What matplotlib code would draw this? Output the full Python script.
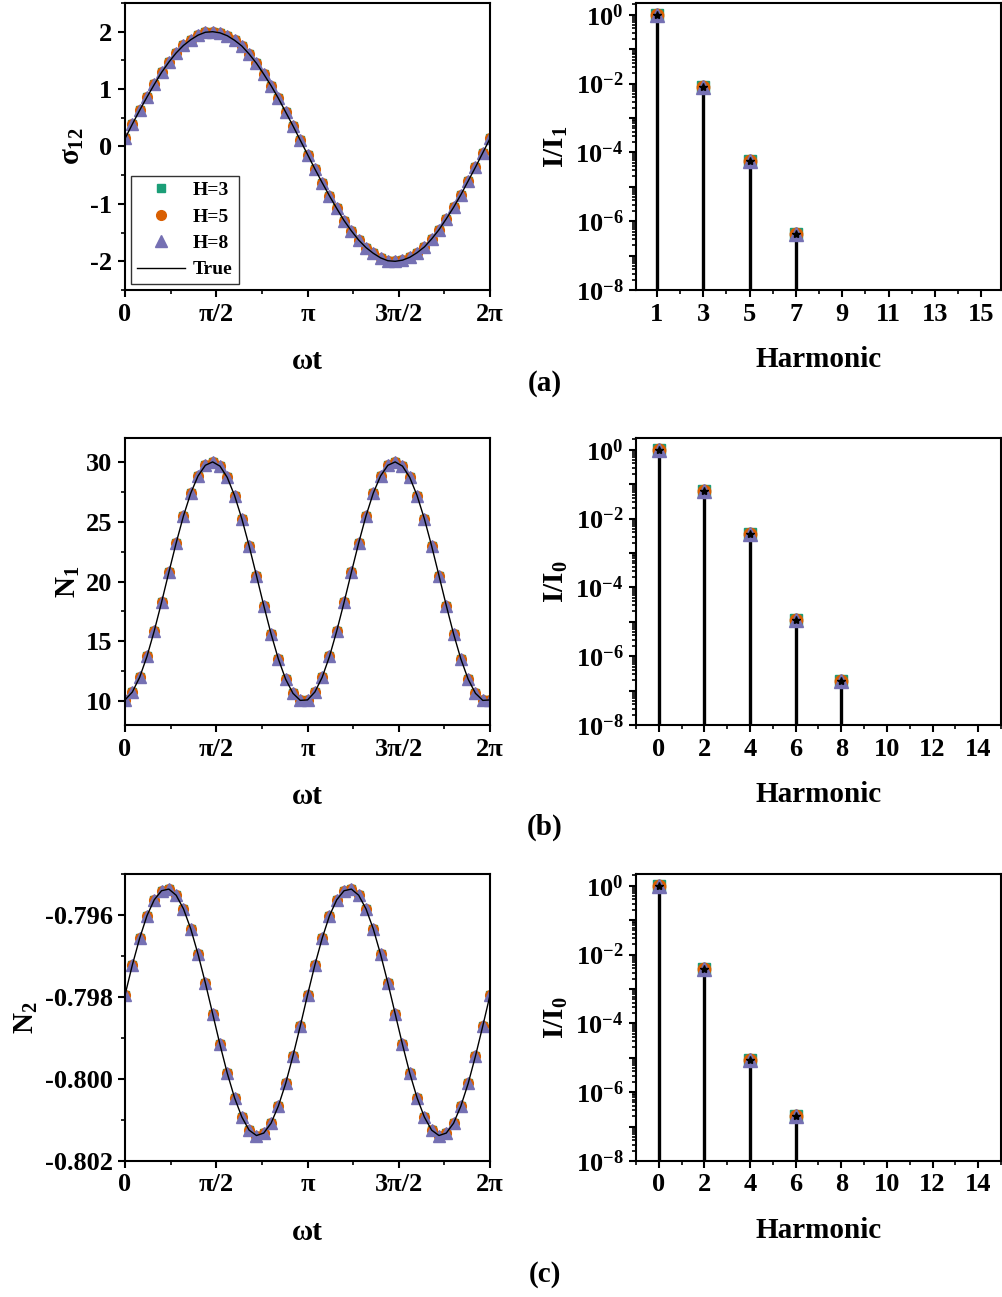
import numpy as np
import matplotlib
matplotlib.use('Agg')
import matplotlib.pyplot as plt
from matplotlib.ticker import MultipleLocator, FixedLocator, LogLocator, FuncFormatter, NullFormatter

plt.rcParams['font.family'] = 'Liberation Serif'
plt.rcParams['font.weight'] = 'bold'
plt.rcParams['axes.labelweight'] = 'bold'
plt.rcParams['mathtext.fontset'] = 'custom'
plt.rcParams['mathtext.rm'] = 'Liberation Serif:bold'
plt.rcParams['mathtext.it'] = 'Liberation Serif:bold'
plt.rcParams['mathtext.bf'] = 'Liberation Serif:bold'
plt.rcParams['axes.unicode_minus'] = False

# sample grid over one period (51 points, 0..2pi)
wt = np.linspace(0, 2 * np.pi, 51)

# values
sigma12 = [0.14, 0.39, 0.63, 0.86, 1.08, 1.29, 1.47, 1.63, 1.76, 1.86, 1.94, 1.99, 2.00,
           1.98, 1.93, 1.85, 1.75, 1.61, 1.45, 1.26, 1.06, 0.84, 0.60, 0.36, 0.11,
           -0.14, -0.39, -0.63, -0.86, -1.08, -1.29, -1.47, -1.63, -1.76, -1.86, -1.94, -1.99, -2.00,
           -1.98, -1.93, -1.85, -1.75, -1.61, -1.45, -1.26, -1.06, -0.84, -0.60, -0.36, -0.11,
           0.14]

n1 = [10.10, 10.76, 11.99, 13.73, 15.87, 18.26, 20.77, 23.22, 25.48, 27.39, 28.83, 29.72, 30.00,
      29.65, 28.70, 27.19, 25.24, 22.96, 20.49, 17.99, 15.62, 13.52, 11.83, 10.65, 10.06,
      10.10, 10.76, 11.99, 13.73, 15.87, 18.26, 20.77, 23.22, 25.48, 27.39, 28.83, 29.72, 30.00,
      29.65, 28.70, 27.19, 25.24, 22.96, 20.49, 17.99, 15.62, 13.52, 11.83, 10.65, 10.06,
      10.10]

n2 = [-0.79795, -0.79722, -0.79657, -0.79602, -0.79563, -0.79541, -0.79537, -0.79552, -0.79585,
      -0.79634, -0.79696, -0.79766, -0.79841, -0.79916, -0.79986, -0.80046, -0.80093, -0.80125,
      -0.80138, -0.80132, -0.80108, -0.80066, -0.80011, -0.79944, -0.79871,
      -0.79795, -0.79722, -0.79657, -0.79602, -0.79563, -0.79541, -0.79537, -0.79552, -0.79585,
      -0.79634, -0.79696, -0.79766, -0.79841, -0.79916, -0.79986, -0.80046, -0.80093, -0.80125,
      -0.80138, -0.80132, -0.80108, -0.80066, -0.80011, -0.79944, -0.79871,
      -0.79795]

# harmonic spectra (normalised intensity)
harm_a = [1, 3, 5, 7]
amp_a = [1.0, 7.9e-3, 5.8e-5, 4.2e-7]
harm_b = [0, 2, 4, 6, 8]
amp_b = [1.0, 6.4e-2, 3.6e-3, 1.1e-5, 1.9e-7]
harm_c = [0, 2, 4, 6]
amp_c = [1.0, 3.8e-3, 8.7e-6, 2.0e-7]

pi_ticks = [0, np.pi / 2, np.pi, 1.5 * np.pi, 2 * np.pi]
pi_labels = ['0', 'π/2', 'π', '3π/2', '2π']

c_h3 = '#1b9e77'
c_h5 = '#d95f02'
c_h8 = '#7570b3'


def style_axes(ax):
    for s in ax.spines.values():
        s.set_linewidth(1.5)
    ax.tick_params(which='major', direction='out', length=5, width=1.5, labelsize=19, pad=4)
    ax.tick_params(which='minor', direction='out', length=3, width=1.2)


def time_panel(ax, y, ylabel):
    l3, = ax.plot(wt, y, 's', color=c_h3, ms=6, label='H=3')
    l5, = ax.plot(wt, y, 'o', color=c_h5, ms=7, label='H=5')
    l8, = ax.plot(wt, y, '^', color=c_h8, ms=8, label='H=8')
    lt, = ax.plot(wt, y, '-', color='k', lw=1.0, label='True', zorder=5)
    ax.set_xlim(0, 2 * np.pi)
    ax.set_xticks(pi_ticks)
    ax.set_xticklabels(pi_labels)
    ax.xaxis.set_minor_locator(MultipleLocator(np.pi / 4))
    ax.set_xlabel('ωt', fontsize=21, labelpad=16)
    ax.set_ylabel(ylabel, fontsize=21, labelpad=3)
    style_axes(ax)
    return [l3, l5, l8, lt]


def log_fmt(v, pos):
    e = int(round(np.log10(v)))
    if e % 2 == 0:
        return r'$10^{%d}$' % e
    return ''


def spec_panel(ax, h, a, ylabel, xlim, xmajor):
    ax.set_yscale('log')
    ax.vlines(h, 1e-8, a, color='k', lw=2.4, zorder=2)
    ax.plot(h, a, 's', color=c_h3, ms=8, zorder=3)
    ax.plot(h, a, 'o', color=c_h5, ms=9, zorder=3)
    ax.plot(h, a, '^', color=c_h8, ms=10, zorder=4)
    ax.plot(h, a, '*', color='k', ms=6, zorder=5)
    ax.set_xlim(*xlim)
    ax.set_ylim(1e-8, 2.2)
    ax.set_xticks(xmajor)
    ax.xaxis.set_minor_locator(MultipleLocator(1))
    ax.yaxis.set_major_locator(FixedLocator([10.0 ** e for e in range(-8, 1)]))
    ax.yaxis.set_major_formatter(FuncFormatter(log_fmt))
    ax.yaxis.set_minor_locator(LogLocator(base=10, subs=np.arange(2, 10), numticks=100))
    ax.yaxis.set_minor_formatter(NullFormatter())
    ax.set_xlabel('Harmonic', fontsize=21, labelpad=15)
    ax.set_ylabel(ylabel, fontsize=21, labelpad=4)
    style_axes(ax)


fig = plt.figure(figsize=(10.02, 12.97), dpi=100)

lw_, ww = 0.1248, 0.3643
rw_ = 0.6347
hh = 0.2213
rows = [0.7764, 0.4410, 0.1049]

# (a)
ax1 = fig.add_axes([lw_, rows[0], ww, hh])
handles = time_panel(ax1, sigma12, r'$\sigma_{12}$')
ax1.set_ylim(-2.5, 2.5)
ax1.yaxis.set_major_locator(MultipleLocator(1))
ax1.yaxis.set_minor_locator(MultipleLocator(0.5))
leg = ax1.legend(handles=handles, loc='lower left', fontsize=14, frameon=True, fancybox=False,
                 edgecolor='k', borderaxespad=0.3, handlelength=2.5, labelspacing=0.45,
                 borderpad=0.3, handletextpad=0.4)
leg.get_frame().set_linewidth(1.0)

ax2 = fig.add_axes([rw_, rows[0], ww, hh])
spec_panel(ax2, harm_a, amp_a, 'I/I$_1$', (0.1, 15.85), [1, 3, 5, 7, 9, 11, 13, 15])

# (b)
ax3 = fig.add_axes([lw_, rows[1], ww, hh])
time_panel(ax3, n1, 'N$_1$')
ax3.set_ylim(8, 32)
ax3.yaxis.set_major_locator(MultipleLocator(5))
ax3.yaxis.set_minor_locator(MultipleLocator(2.5))

ax4 = fig.add_axes([rw_, rows[1], ww, hh])
spec_panel(ax4, harm_b, amp_b, 'I/I$_0$', (-1, 15), [0, 2, 4, 6, 8, 10, 12, 14])

# (c)
ax5 = fig.add_axes([lw_, rows[2], ww, hh])
time_panel(ax5, n2, 'N$_2$')
ax5.set_ylim(-0.802, -0.795)
ax5.set_yticks([-0.802, -0.800, -0.798, -0.796])
ax5.set_yticklabels(['-0.802', '-0.800', '-0.798', '-0.796'])
ax5.yaxis.set_minor_locator(MultipleLocator(0.001))

ax6 = fig.add_axes([rw_, rows[2], ww, hh])
spec_panel(ax6, harm_c, amp_c, 'I/I$_0$', (-1, 15), [0, 2, 4, 6, 8, 10, 12, 14])

fig.text(0.544, 0.7047, '(a)', ha='center', va='center', fontsize=21, fontweight='bold')
fig.text(0.544, 0.3624, '(b)', ha='center', va='center', fontsize=21, fontweight='bold')
fig.text(0.544, 0.0170, '(c)', ha='center', va='center', fontsize=21, fontweight='bold')

fig.savefig('out.png', dpi=100)
